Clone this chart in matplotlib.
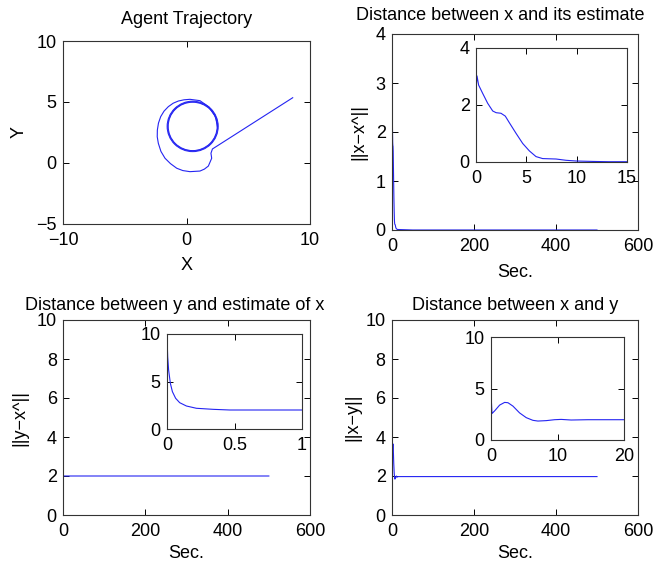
"""Agent trajectory and estimation-distance panels."""

import matplotlib

matplotlib.use("Agg")
import matplotlib.pyplot as plt
from matplotlib.patches import Circle

plt.rcParams["font.family"] = ["Liberation Sans", "DejaVu Sans"]
plt.rcParams["font.size"] = 13

W, H = 666, 568
LINE = "#2424f2"

# agent trajectory: straight approach, swing round, then the limit circle
traj_x = [8.6, 2.1, 1.98, 2.04, 1.77, 1.45, 1.09, 0.28, -0.3, -0.79, -1.3,
          -1.74, -2.07, -2.28, -2.37, -2.36, -2.27, -2.09, -1.82, -1.47,
          -1.08, -0.66, -0.2, 0.28, 1.09, 1.8, 2.35, 2.5]
traj_y = [5.35, 1.15, 0.8, 0.39, -0.25, -0.5, -0.66, -0.71, -0.62, -0.43,
          -0.05, 0.39, 0.95, 1.61, 2.15, 2.7, 3.27, 3.8, 4.25, 4.62, 4.9,
          5.08, 5.18, 5.22, 5.11, 4.6, 3.8, 3.0]
orbit_center = (0.5, 3.0)
orbit_radii = [2.07, 2.02, 1.98]

# ||x - x^||
ex_t = [0, 0.1, 0.26, 0.66, 1.16, 1.66, 2.0, 2.48, 2.91, 3.31, 3.97, 4.64,
        5.3, 5.96, 6.62, 7.95, 8.94, 9.93, 11.6, 13.2, 15, 50, 200, 500]
ex_v = [2.5, 3.02, 2.7, 2.41, 2.06, 1.79, 1.73, 1.71, 1.61, 1.38, 1.01, 0.65,
        0.39, 0.19, 0.12, 0.105, 0.06, 0.035, 0.02, 0.01, 0.01, 0.0, 0.0, 0.0]

# ||y - x^||
ey_t = [0, 0.005, 0.012, 0.025, 0.04, 0.064, 0.094, 0.144, 0.218, 0.342,
        0.465, 0.713, 1.0, 500]
ey_v = [9.8, 7.6, 6.2, 4.8, 3.93, 3.23, 2.77, 2.42, 2.18, 2.07,
        2.0, 2.0, 2.0, 2.0]

# ||x - y||
xy_t = [0, 0.05, 0.15, 0.55, 1.3, 2.05, 2.55, 3.3, 4.3, 5.3, 6.3, 7.05,
        8.3, 9.55, 10.55, 12.05, 14.55, 20, 500]
xy_v = [8.45, 3.88, 2.57, 2.83, 3.39, 3.65, 3.62, 3.29, 2.63, 2.17, 1.91,
        1.84, 1.88, 1.97, 2.0, 1.94, 1.97, 1.97, 1.97]


def px_axes(fig, left, top, right, bottom):
    """Add axes from pixel edges measured from the top-left corner."""
    ax = fig.add_axes([left / W, 1 - bottom / H, (right - left) / W,
                       (bottom - top) / H])
    ax.tick_params(direction="in", top=True, right=True, length=4,
                   width=0.7)
    ax.tick_params(axis="x", pad=5.5)
    ax.tick_params(axis="y", pad=4.5)
    for spine in ax.spines.values():
        spine.set_linewidth(0.8)
        spine.set_color("#333333")
    return ax


fig = plt.figure(figsize=(W / 100, H / 100), dpi=100)

# agent trajectory
ax1 = px_axes(fig, 63, 41, 310, 224)
ax1.plot(traj_x, traj_y, color=LINE, lw=0.8)
for r in orbit_radii:
    ax1.add_patch(Circle(orbit_center, r, fill=False, color=LINE, lw=0.7))
ax1.set_xlim(-10, 10)
ax1.set_ylim(-5, 10)
ax1.set_xticks([-10, 0, 10])
ax1.set_yticks([-5, 0, 5, 10])
ax1.set_xlabel("X", labelpad=6)
ax1.set_ylabel("Y", labelpad=6)
fig.text(187 / W, 1 - 20 / H, "Agent Trajectory", ha="center", va="center")

# distance between x and its estimate
ax2 = px_axes(fig, 392, 34, 638, 230)
ax2.plot(ex_t, ex_v, color=LINE, lw=0.8)
ax2.set_xlim(0, 600)
ax2.set_ylim(0, 4)
ax2.set_xticks([0, 200, 400, 600])
ax2.set_yticks([0, 1, 2, 3, 4])
ax2.set_xlabel("Sec.", labelpad=7)
ax2.set_ylabel("||x−x^||", labelpad=6)
fig.text(500 / W, 1 - 15 / H, "Distance between x and its estimate",
         ha="center", va="center")

in2 = px_axes(fig, 476, 48, 627, 162)
in2.plot(ex_t, ex_v, color=LINE, lw=0.8)
in2.set_xlim(0, 15)
in2.set_ylim(0, 4)
in2.set_xticks([0, 5, 10, 15])
in2.set_yticks([0, 2, 4])

# distance between y and estimate of x
ax3 = px_axes(fig, 63, 320, 310, 515)
ax3.plot(ey_t, ey_v, color=LINE, lw=0.8)
ax3.set_xlim(0, 600)
ax3.set_ylim(0, 10)
ax3.set_xticks([0, 200, 400, 600])
ax3.set_yticks([0, 2, 4, 6, 8, 10])
ax3.set_xlabel("Sec.", labelpad=4)
ax3.set_ylabel("||y−x^||", labelpad=6)
fig.text(175 / W, 1 - 306 / H, "Distance between y and estimate of x",
         ha="center", va="center")

in3 = px_axes(fig, 167, 334, 302, 429)
in3.plot(ey_t, ey_v, color=LINE, lw=0.8)
in3.set_xlim(0, 1)
in3.set_ylim(0, 10)
in3.set_xticks([0, 0.5, 1])
in3.set_xticklabels(["0", "0.5", "1"])
in3.set_yticks([0, 5, 10])

# distance between x and y
ax4 = px_axes(fig, 392, 320, 638, 515)
ax4.plot(xy_t, xy_v, color=LINE, lw=0.8)
ax4.set_xlim(0, 600)
ax4.set_ylim(0, 10)
ax4.set_xticks([0, 200, 400, 600])
ax4.set_yticks([0, 2, 4, 6, 8, 10])
ax4.set_xlabel("Sec.", labelpad=4)
ax4.set_ylabel("||x−y||", labelpad=3)
fig.text(515 / W, 1 - 306 / H, "Distance between x and y",
         ha="center", va="center")

in4 = px_axes(fig, 491, 337, 624, 440)
in4.plot(xy_t, xy_v, color=LINE, lw=0.8)
in4.set_xlim(0, 20)
in4.set_ylim(0, 10)
in4.set_xticks([0, 10, 20])
in4.set_yticks([0, 5, 10])

fig.savefig("out.png", dpi=100)
